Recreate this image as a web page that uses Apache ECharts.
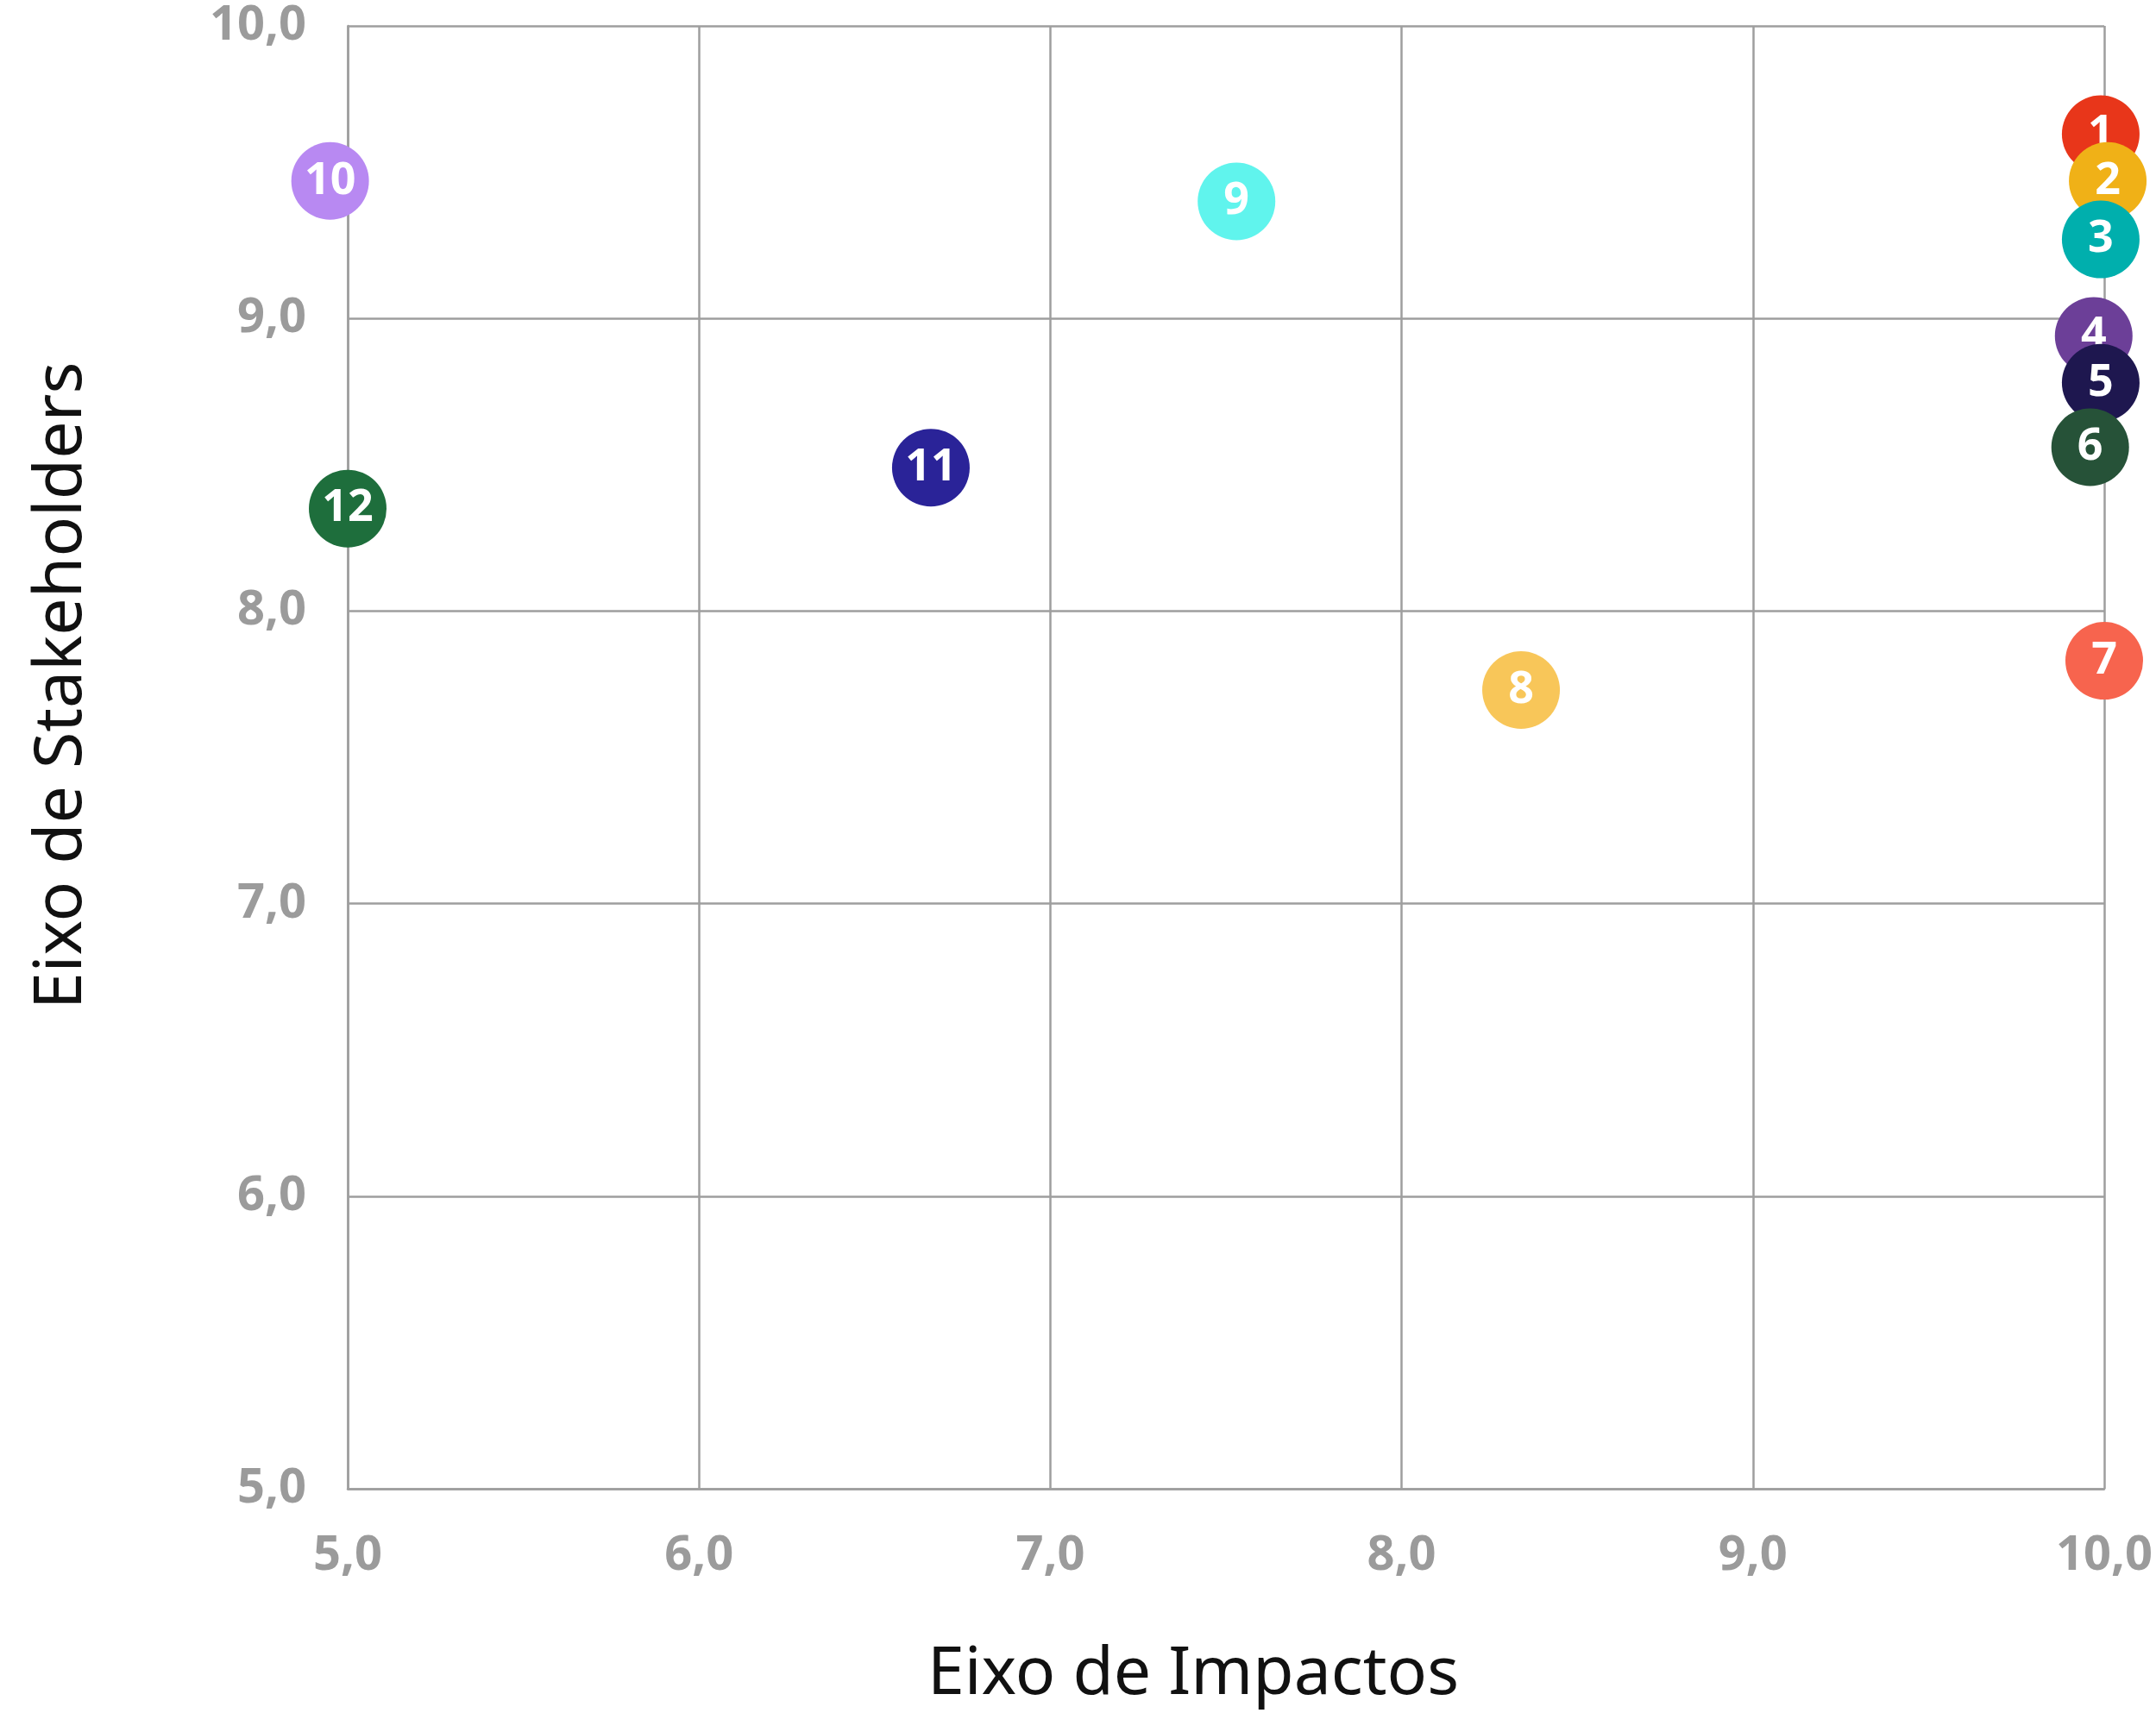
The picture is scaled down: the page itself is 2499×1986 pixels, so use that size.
<!DOCTYPE html>
<html>
<head>
<meta charset="utf-8">
<script src="https://cdn.jsdelivr.net/npm/echarts@6/dist/echarts.min.js"></script>
<style>
html,body{margin:0;padding:0;background:#fff;}
#chart{width:2499px;height:1986px;}
</style>
</head>
<body>
<div id="chart"></div>
<script>
const pointLabels = ['1','2','3','4','5','6','7','8','9','10','11','12'];
const impactos = [9.99, 10.01, 9.99, 9.97, 9.99, 9.96, 10.0, 8.34, 7.53, 4.95, 6.66, 5.0];
const stakeholders = [9.63, 9.47, 9.27, 8.94, 8.78, 8.56, 7.83, 7.73, 9.40, 9.47, 8.49, 8.35];
const pointColors = ['#E8361A','#F0B117','#00AFAD','#6C3F98','#1E174F','#265238','#F7644E','#F8C659','#60F4ED','#B889F2','#2A2398','#1E6E3C'];
const axisTicks = [5, 6, 7, 8, 9, 10];
const xName = 'Eixo de Impactos';
const yName = 'Eixo de Stakeholders';

const fmt = v => v.toFixed(1).replace('.', ',');
const gridColor = '#9e9e9e';
const tickLabelStyle = {
  color: '#9b9b9b', fontFamily: 'Noto Sans', fontWeight: 'bold', fontSize: 56
};

const series = pointLabels.map((lab, i) => ({
  type: 'scatter',
  name: lab,
  z: 10 + i,
  clip: false,
  symbol: 'circle',
  symbolSize: 90,
  itemStyle: { color: pointColors[i], opacity: 1 },
  label: {
    show: true,
    position: 'inside',
    formatter: lab,
    color: '#ffffff',
    fontFamily: 'Noto Sans',
    fontWeight: 'bold',
    fontSize: 52
  },
  emphasis: { disabled: true },
  data: [[impactos[i], stakeholders[i]]]
}));

const chart = echarts.init(document.getElementById('chart'));
chart.setOption({
  animation: false,
  backgroundColor: '#ffffff',
  grid: { left: 403, right: 60, top: 30, bottom: 252, containLabel: false },
  xAxis: {
    type: 'value',
    min: axisTicks[0],
    max: axisTicks[axisTicks.length - 1],
    interval: 1,
    name: xName,
    nameLocation: 'middle',
    nameGap: 178,
    nameTextStyle: { color: '#111', fontFamily: 'Noto Sans', fontSize: 77, padding: [0, 76, 0, 0] },
    axisLine: { show: true, lineStyle: { color: gridColor, width: 2.5 } },
    axisTick: { show: false },
    splitLine: { show: true, lineStyle: { color: gridColor, width: 2.5 } },
    axisLabel: Object.assign({ margin: 50, formatter: fmt }, tickLabelStyle)
  },
  yAxis: {
    type: 'value',
    min: axisTicks[0],
    max: axisTicks[axisTicks.length - 1],
    interval: 1,
    name: yName,
    nameLocation: 'middle',
    nameGap: 292,
    nameTextStyle: { color: '#111', fontFamily: 'Noto Sans', fontSize: 77, padding: [0, 0, 0, 166] },
    axisLine: { show: true, lineStyle: { color: gridColor, width: 2.5 } },
    axisTick: { show: false },
    splitLine: { show: true, lineStyle: { color: gridColor, width: 2.5 } },
    axisLabel: Object.assign({ margin: 48, formatter: fmt }, tickLabelStyle)
  },
  series: series
});
</script>
</body>
</html>
